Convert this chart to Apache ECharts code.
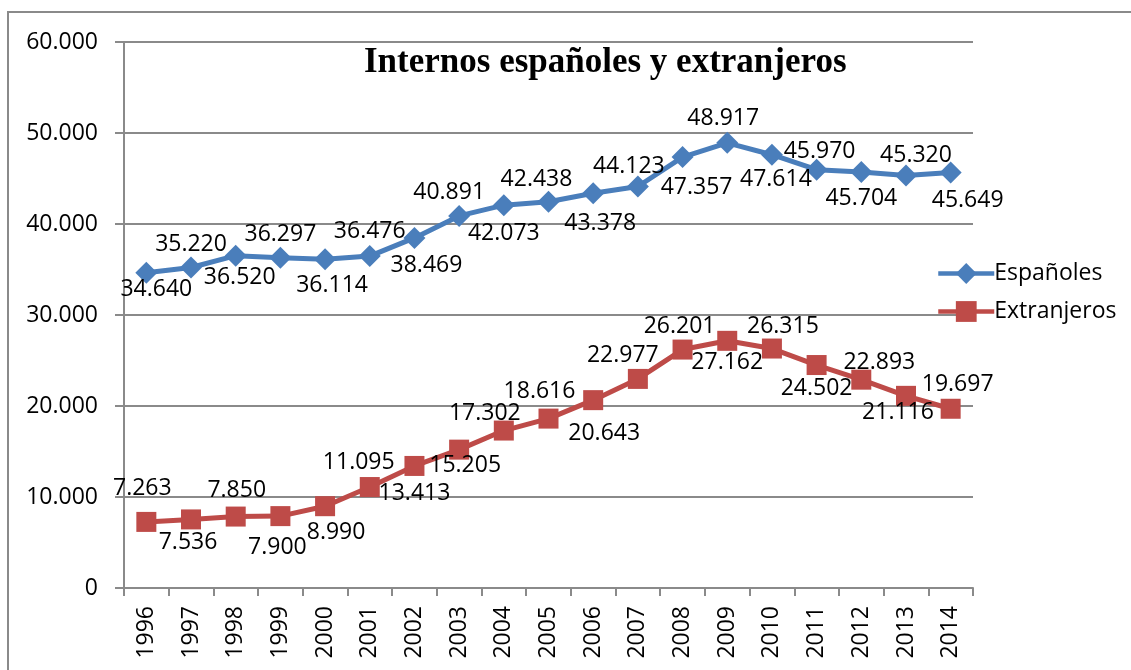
<!DOCTYPE html>
<html>
<head>
<meta charset="utf-8">
<script src="https://cdn.jsdelivr.net/npm/echarts@6/dist/echarts.min.js"></script>
<style>
html,body{margin:0;padding:0;background:#fff;}
#chart{width:1131px;height:670px;}
</style>
</head>
<body>
<div id="chart"></div>
<script>
// ---- data ----
const years = ['1996','1997','1998','1999','2000','2001','2002','2003','2004','2005','2006','2007','2008','2009','2010','2011','2012','2013','2014'];
const espanoles = [34640,35220,36520,36297,36114,36476,38469,40891,42073,42438,43378,44123,47357,48917,47614,45970,45704,45320,45649];
const extranjeros = [7263,7536,7850,7900,8990,11095,13413,15205,17302,18616,20643,22977,26201,27162,26315,24502,22893,21116,19697];
const seriesNames = ['Españoles','Extranjeros'];
const chartTitle = 'Internos españoles y extranjeros';
const yTicks = {min:0, max:60000, interval:10000};

// ---- label placement (style only) ----
const espLabelOffsets = [[10,17],[0,-23],[4,22],[0,-23],[7,26],[0,-25],[12,28],[-10,-23],[0,28],[-12,-22],[7,30],[-9,-20],[14,30],[-4,-24],[4,25],[3,-18],[0,26],[10,-20],[17,28]];
const extLabelOffsets = [[-4,-33],[-3,23],[1,-26],[-3,31],[11,26],[-11,-25],[0,28],[6,16],[-19,-17],[-9,-27],[11,33],[-15,-23],[-3,-23],[0,22],[11,-22],[0,23],[18,-17],[-8,17],[7,-24]];

function fmt(v){ return String(v).replace(/\B(?=(\d{3})+(?!\d))/g,'.'); }

const FONT = '"Open Sans", sans-serif';
const FS = 23;
const GRID_COLOR = '#8a8a8a';
const BLUE = '#4A7EBB';
const RED = '#BE4B48';

function buildData(vals, offs){
  return vals.map((v,i)=>({value:v, label:{offset:offs[i]}}));
}

const chart = echarts.init(document.getElementById('chart'), null, {renderer:'canvas'});
chart.setOption({
  animation:false,
  backgroundColor:'#fff',
  textStyle:{fontFamily:FONT},
  grid:{left:124, right:158, top:42, bottom:82, containLabel:false},
  graphic:[
    {type:'rect', z:-1, shape:{x:8, y:12, width:1200, height:700}, style:{fill:'none', stroke:GRID_COLOR, lineWidth:2}},
    {type:'text', left:364, top:45, style:{text:chartTitle, font:'bold 35px "Liberation Serif", serif', fill:'#000'}}
  ],
  legend:{
    orient:'vertical', left:931, top:257, itemWidth:56, itemHeight:26, itemGap:15,
    lineStyle:{width:4.5},
    textStyle:{fontFamily:FONT, fontSize:FS, color:'#000', padding:[0,0,0,-5]},
    data:seriesNames
  },
  xAxis:{
    type:'category', data:years, boundaryGap:true,
    axisLine:{lineStyle:{color:GRID_COLOR, width:2}},
    axisTick:{show:true, length:8, lineStyle:{color:GRID_COLOR, width:2}},
    axisLabel:{rotate:90, fontSize:FS, color:'#000', margin:18, fontFamily:FONT, interval:0}
  },
  yAxis:{
    type:'value', min:yTicks.min, max:yTicks.max, interval:yTicks.interval,
    axisLine:{show:true, lineStyle:{color:GRID_COLOR, width:2}},
    axisTick:{show:true, length:9, lineStyle:{color:GRID_COLOR, width:2}},
    splitLine:{show:true, lineStyle:{color:GRID_COLOR, width:2}},
    axisLabel:{fontSize:FS, color:'#000', margin:26, fontFamily:FONT, formatter:v=>fmt(v)}
  },
  series:[
    {
      name:seriesNames[0], type:'line', data:buildData(espanoles, espLabelOffsets),
      symbol:'diamond', symbolSize:22, showAllSymbol:true,
      lineStyle:{color:BLUE, width:5}, itemStyle:{color:BLUE},
      label:{show:true, position:'inside', fontSize:FS, color:'#000', fontFamily:FONT, formatter:p=>fmt(p.value)}
    },
    {
      name:seriesNames[1], type:'line', data:buildData(extranjeros, extLabelOffsets),
      symbol:'rect', symbolSize:20, showAllSymbol:true,
      lineStyle:{color:RED, width:5}, itemStyle:{color:RED},
      label:{show:true, position:'inside', fontSize:FS, color:'#000', fontFamily:FONT, formatter:p=>fmt(p.value)}
    }
  ]
});
</script>
</body>
</html>
